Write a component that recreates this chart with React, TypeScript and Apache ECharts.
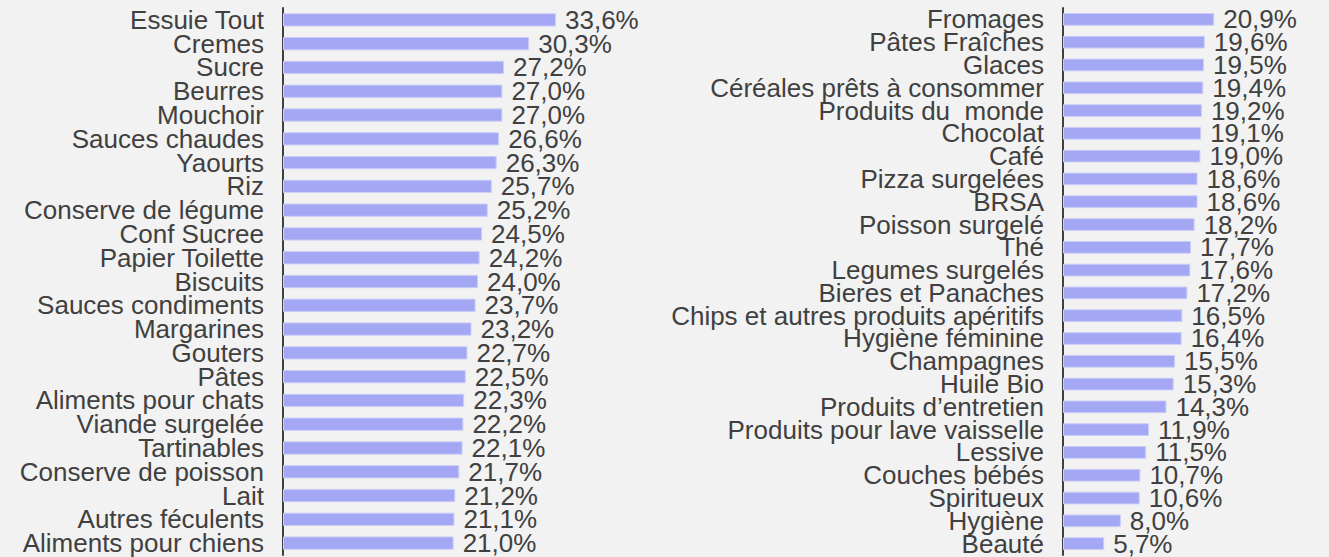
import React, { useEffect, useRef } from "react";
import * as echarts from "echarts";

const leftCategories = [
  "Essuie Tout",
  "Cremes",
  "Sucre",
  "Beurres",
  "Mouchoir",
  "Sauces chaudes",
  "Yaourts",
  "Riz",
  "Conserve de légume",
  "Conf Sucree",
  "Papier Toilette",
  "Biscuits",
  "Sauces condiments",
  "Margarines",
  "Gouters",
  "Pâtes",
  "Aliments pour chats",
  "Viande surgelée",
  "Tartinables",
  "Conserve de poisson",
  "Lait",
  "Autres féculents",
  "Aliments pour chiens",
];
const leftValues = [
  33.6, 30.3, 27.2, 27.0, 27.0, 26.6, 26.3, 25.7, 25.2, 24.5, 24.2, 24.0, 23.7,
  23.2, 22.7, 22.5, 22.3, 22.2, 22.1, 21.7, 21.2, 21.1, 21.0,
];

const rightCategories = [
  "Fromages",
  "Pâtes Fraîches",
  "Glaces",
  "Céréales prêts à consommer",
  "Produits du  monde",
  "Chocolat",
  "Café",
  "Pizza surgelées",
  "BRSA",
  "Poisson surgelé",
  "Thé",
  "Legumes surgelés",
  "Bieres et Panaches",
  "Chips et autres produits apéritifs",
  "Hygiène féminine",
  "Champagnes",
  "Huile Bio",
  "Produits d’entretien",
  "Produits pour lave vaisselle",
  "Lessive",
  "Couches bébés",
  "Spiritueux",
  "Hygiène",
  "Beauté",
];
const rightValues = [
  20.9, 19.6, 19.5, 19.4, 19.2, 19.1, 19.0, 18.6, 18.6, 18.2, 17.7, 17.6, 17.2,
  16.5, 16.4, 15.5, 15.3, 14.3, 11.9, 11.5, 10.7, 10.6, 8.0, 5.7,
];

const FONT = "'Liberation Sans', Arial, sans-serif";
const TEXT = "#404040";
const BAR = "#a4a8f4";

const fmt = (v: number) => v.toFixed(1).replace(".", ",") + "%";

export default function App() {
  const ref = useRef<HTMLDivElement>(null);
  useEffect(() => {
    document.body.style.margin = "0";
    if (!ref.current) return;
    const chart = echarts.init(ref.current, undefined, { renderer: "svg" });
    const yAxisCommon = {
      type: "category" as const,
      inverse: true,
      axisLine: { show: true, lineStyle: { color: TEXT, width: 2 } },
      axisTick: { show: false },
      axisLabel: {
        interval: 0,
        color: TEXT,
        fontSize: 26,
        fontFamily: FONT,
        margin: 19,
      },
    };
    const seriesCommon = {
      type: "bar" as const,
      barWidth: "56%",
      itemStyle: { color: BAR, borderColor: "#ccceF6", borderWidth: 1 },
      label: {
        show: true,
        position: "right" as const,
        distance: 9,
        color: TEXT,
        fontSize: 26,
        fontFamily: FONT,
        formatter: (p: any) => fmt(p.value),
      },
    };
    chart.setOption({
      animation: false,
      backgroundColor: "#f2f2f2",
      textStyle: { fontFamily: FONT },
      grid: [
        { left: 283, top: 8, width: 325, height: 547 },
        { left: 1063, top: 8, width: 217, height: 547 },
      ],
      xAxis: [
        { type: "value", gridIndex: 0, min: 0, max: 40, show: false },
        { type: "value", gridIndex: 1, min: 0, max: 30, show: false },
      ],
      yAxis: [
        { ...yAxisCommon, gridIndex: 0, data: leftCategories },
        { ...yAxisCommon, gridIndex: 1, data: rightCategories },
      ],
      series: [
        { ...seriesCommon, xAxisIndex: 0, yAxisIndex: 0, data: leftValues },
        { ...seriesCommon, xAxisIndex: 1, yAxisIndex: 1, data: rightValues },
      ],
    });
    return () => chart.dispose();
  }, []);
  return (
    <div
      ref={ref}
      style={{
        position: "fixed",
        left: 0,
        top: 0,
        width: 1329,
        height: 557,
        background: "#f2f2f2",
      }}
    />
  );
}
